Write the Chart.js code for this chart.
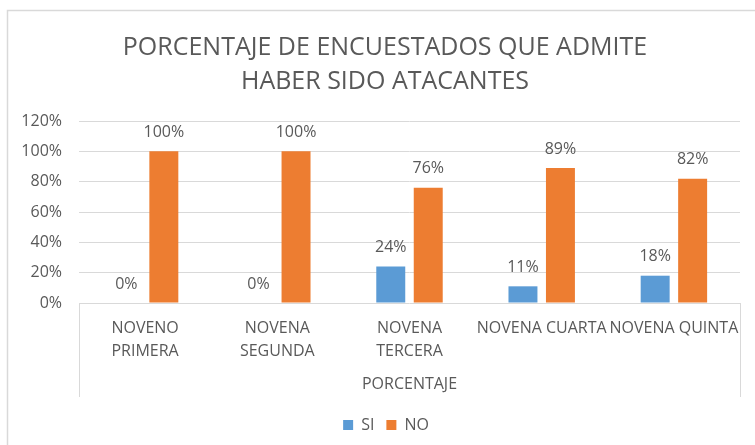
<!DOCTYPE html>
<html>
<head>
<meta charset="utf-8">
<script src="https://cdn.jsdelivr.net/npm/chart.js@4.4.0/dist/chart.umd.min.js"></script>
<style>
  html, body { margin: 0; padding: 0; background: #fff; }
  #wrap { width: 755px; height: 445px; }
</style>
</head>
<body>
<div id="wrap"><canvas id="chart"></canvas></div>
<script>
// data
const categories = [['NOVENO', 'PRIMERA'], ['NOVENA', 'SEGUNDA'], ['NOVENA', 'TERCERA'], 'NOVENA CUARTA', 'NOVENA QUINTA'];
const siValues = [0, 0, 0.24, 0.11, 0.18];
const noValues = [1, 1, 0.76, 0.89, 0.82];
const titleLines = ['PORCENTAJE DE ENCUESTADOS QUE ADMITE', 'HABER SIDO ATACANTES'];
const axisTitle = 'PORCENTAJE';

const textColor = '#595959';
const gridColor = '#d9d9d9';
const fontFam = '"Open Sans", "Liberation Sans", sans-serif';

// frame of the chart + box round the category axis
const framePlugin = {
    id: 'frame',
    afterLayout(chart) {
        // the original chart is cut on the right, so title and legend sit a bit right of centre
        chart.titleBlock.left += 11; chart.titleBlock.right += 11;
        chart.legend.left += 12; chart.legend.right += 12;
    },
    beforeDraw(chart) {
        const c = chart.ctx;
        c.save();
        c.fillStyle = '#fff';
        c.fillRect(0, 0, chart.width, chart.height);
        c.strokeStyle = gridColor;
        c.lineWidth = 1.5;
        c.strokeRect(7.5, 10.5, chart.width + 20, chart.height + 20);
        c.restore();
    },
    afterDraw(chart) {
        const a = chart.chartArea;
        const c = chart.ctx;
        c.save();
        c.strokeStyle = gridColor;
        c.lineWidth = 1;
        c.beginPath();
        c.moveTo(Math.round(a.left) + 0.5, a.bottom);
        c.lineTo(Math.round(a.left) + 0.5, a.bottom + 94);
        c.moveTo(Math.round(a.right) + 0.5, a.bottom);
        c.lineTo(Math.round(a.right) + 0.5, a.bottom + 94);
        c.stroke();
        c.restore();
    }
};

// value labels above the bars
const valueLabels = {
    id: 'valueLabels',
    afterDatasetsDraw(chart) {
        const c = chart.ctx;
        c.save();
        c.font = '16px ' + fontFam;
        c.fillStyle = textColor;
        c.textAlign = 'center';
        c.textBaseline = 'middle';
        chart.data.datasets.forEach((ds, i) => {
            chart.getDatasetMeta(i).data.forEach((bar, j) => {
                c.fillText(Math.round(ds.data[j] * 100) + '%', bar.x, bar.y - 19);
            });
        });
        c.restore();
    }
};

new Chart(document.getElementById('chart'), {
    type: 'bar',
    data: {
        labels: categories,
        datasets: [
            { label: 'SI', data: siValues, backgroundColor: '#5b9bd5' },
            { label: 'NO', data: noValues, backgroundColor: '#ed7d31' }
        ]
    },
    options: {
        responsive: true,
        maintainAspectRatio: false,
        animation: false,
        categoryPercentage: 0.567,
        barPercentage: 0.773,
        layout: { padding: { left: 8, right: 15, top: 10, bottom: 2 } },
        plugins: {
            title: {
                display: true,
                text: titleLines,
                color: textColor,
                font: { family: fontFam, size: 25, weight: 'normal', lineHeight: 1.36 },
                padding: { top: 21, bottom: 22 }
            },
            legend: {
                position: 'bottom',
                labels: {
                    color: textColor,
                    font: { family: fontFam, size: 16 },
                    boxWidth: 10,
                    boxHeight: 10,
                    padding: 12
                }
            },
            tooltip: { enabled: false }
        },
        scales: {
            x: {
                grid: { display: false },
                border: { display: false },
                ticks: {
                    color: textColor,
                    font: { family: fontFam, size: 16, lineHeight: 1.44 },
                    padding: 6,
                    autoSkip: false,
                    maxRotation: 0,
                    minRotation: 0
                },
                title: {
                    display: true,
                    text: axisTitle,
                    color: textColor,
                    font: { family: fontFam, size: 16 },
                    padding: { top: 14, bottom: 11 }
                },
                afterFit(scale) { scale.height = 102; }
            },
            y: {
                min: 0,
                max: 1.2,
                grid: { color: gridColor, drawTicks: false },
                border: { display: false },
                ticks: {
                    stepSize: 0.2,
                    color: textColor,
                    font: { family: fontFam, size: 16 },
                    padding: 17,
                    callback: v => Math.round(v * 100) + '%'
                },
                afterFit(scale) { scale.width = 71; }
            }
        }
    },
    plugins: [framePlugin, valueLabels]
});
</script>
</body>
</html>
